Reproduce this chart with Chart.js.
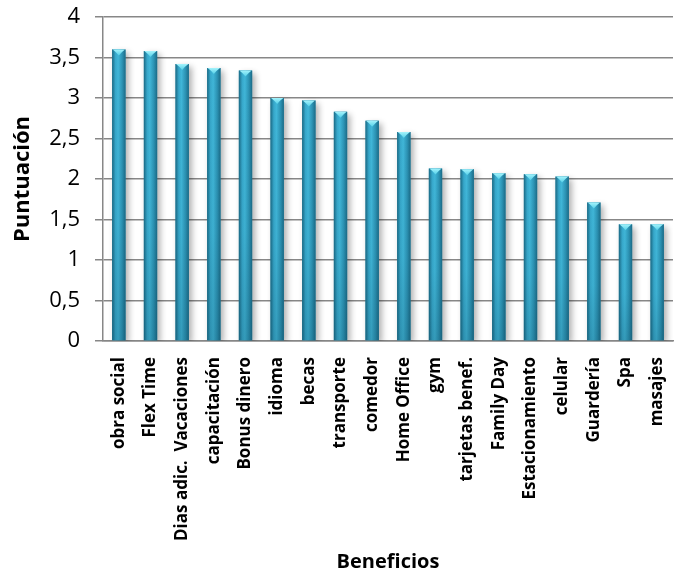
<!DOCTYPE html>
<html>
<head>
<meta charset="utf-8">
<script src="https://cdn.jsdelivr.net/npm/chart.js@4.4.1/dist/chart.umd.min.js"></script>
<style>
  html, body { margin: 0; padding: 0; background: #ffffff; }
  #wrap { width: 677px; height: 574px; }
</style>
</head>
<body>
<div id="wrap"><canvas id="c" width="677" height="574"></canvas></div>
<script>
// Beneficios y su puntuación promedio
const categories = [
  'obra social', 'Flex Time', 'Dias adic.  Vacaciones', 'capacitación', 'Bonus dinero',
  'idioma', 'becas', 'transporte', 'comedor', 'Home Office', 'gym', 'tarjetas benef.',
  'Family Day', 'Estacionamiento', 'celular', 'Guardería', 'Spa', 'masajes'
];
const scores = [3.60, 3.58, 3.42, 3.37, 3.34, 3.00, 2.97, 2.83, 2.72, 2.58, 2.13, 2.12, 2.07, 2.06, 2.03, 1.71, 1.44, 1.44];
const yTickValues = [0, 0.5, 1, 1.5, 2, 2.5, 3, 3.5, 4];

const FONT = '"Open Sans", "Noto Sans", sans-serif';
const AXIS_GRAY = '#878787';

// Cylinder shading, drop shadow and light top cap for every bar
const cylinderBars = {
  id: 'cylinderBars',
  beforeDatasetsDraw(chart) {
    const c = chart.ctx;
    c.save();
    c.shadowColor = 'rgba(0,0,0,0.32)';
    c.shadowBlur = 6;
    c.shadowOffsetX = 3;
    c.shadowOffsetY = 3;
  },
  afterDatasetsDraw(chart) {
    const c = chart.ctx;
    c.restore();
    const meta = chart.getDatasetMeta(0);
    meta.data.forEach(bar => {
      const w = bar.width, x = bar.x, y = bar.y, h = bar.base - bar.y;
      const x0 = x - w / 2;
      c.save();
      // side-to-side shading
      const gh = c.createLinearGradient(x0, 0, x0 + w, 0);
      gh.addColorStop(0.0, '#1a6a85');
      gh.addColorStop(0.25, '#37a8cb');
      gh.addColorStop(0.45, '#40b6d8');
      gh.addColorStop(0.75, '#2c93b4');
      gh.addColorStop(1.0, '#1b6b87');
      c.fillStyle = gh;
      c.fillRect(x0, y, w, h);
      // slightly darker toward the base
      const gv = c.createLinearGradient(0, y, 0, bar.base);
      gv.addColorStop(0, 'rgba(10,60,80,0)');
      gv.addColorStop(0.6, 'rgba(10,60,80,0.05)');
      gv.addColorStop(1, 'rgba(10,60,80,0.22)');
      c.fillStyle = gv;
      c.fillRect(x0, y, w, h);
      // top cap
      const g = c.createLinearGradient(0, y, 0, y + 6);
      g.addColorStop(0, '#a4f3fc');
      g.addColorStop(1, '#55d0e8');
      c.fillStyle = g;
      c.beginPath();
      c.moveTo(x0 + 0.5, y);
      c.lineTo(x0 + w - 0.5, y);
      c.quadraticCurveTo(x + w / 4, y + 2, x, y + 6);
      c.quadraticCurveTo(x - w / 4, y + 2, x0 + 0.5, y);
      c.closePath();
      c.fill();
      c.restore();
    });
  }
};

new Chart(document.getElementById('c'), {
  type: 'bar',
  data: {
    labels: categories,
    datasets: [{
      data: scores,
      backgroundColor: '#2a8fb0',
      borderWidth: 0,
      barPercentage: 0.84,
      categoryPercentage: 0.5
    }]
  },
  options: {
    responsive: false,
    animation: false,
    events: [],
    layout: { padding: { top: 17, right: 4, left: 10, bottom: 0 } },
    plugins: { legend: { display: false }, tooltip: { enabled: false } },
    scales: {
      x: {
        grid: { display: false },
        border: { display: true, color: AXIS_GRAY, width: 1.5 },
        afterFit(axis) { axis.height = 233; },
        ticks: {
          autoSkip: false, maxRotation: 90, minRotation: 90, padding: 8,
          color: '#000', font: { family: FONT, size: 17, weight: 'bold', lineHeight: 0.5 }
        },
        title: {
          display: true, text: 'Beneficios', color: '#000',
          font: { family: FONT, size: 20, weight: 'bold' }, padding: { top: 10, bottom: 0 }
        }
      },
      y: {
        min: 0, max: 4,
        afterBuildTicks(axis) { axis.ticks = yTickValues.map(v => ({ value: v })); },
        afterFit(axis) { axis.width = 93; },
        grid: { color: AXIS_GRAY, lineWidth: 1.5, tickLength: 8 },
        border: { display: true, color: AXIS_GRAY, width: 1.5 },
        ticks: {
          padding: 15, color: '#000',
          font: { family: FONT, size: 22, lineHeight: 0.1 },
          callback: v => String(v).replace('.', ',')
        },
        title: {
          display: true, text: 'Puntuación', color: '#000',
          font: { family: FONT, size: 22, weight: 'bold' }, padding: { top: 0, bottom: 2 }
        }
      }
    }
  },
  plugins: [cylinderBars]
});
</script>
</body>
</html>
